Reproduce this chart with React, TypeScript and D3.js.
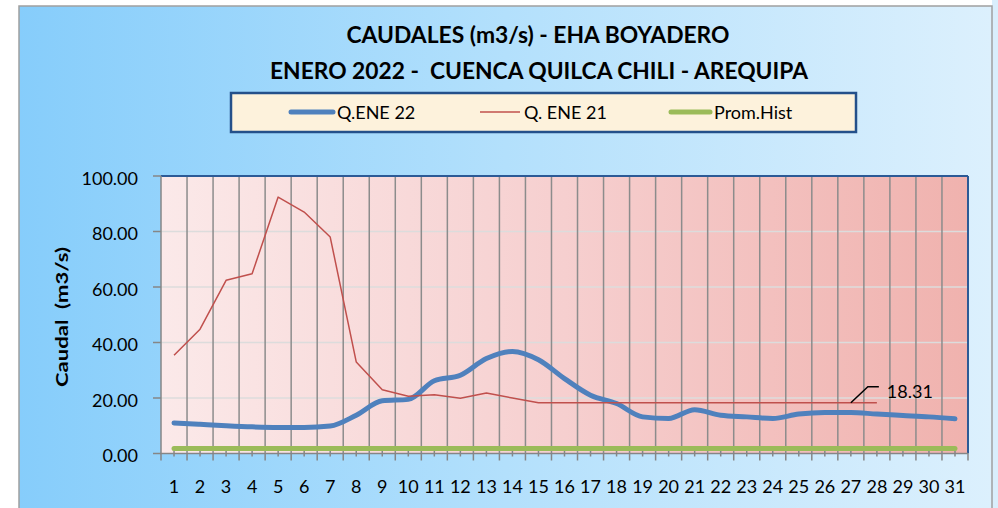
import React from "react";
import * as d3 from "d3";

const days = ["1","2","3","4","5","6","7","8","9","10","11","12","13","14","15","16","17","18","19","20","21","22","23","24","25","26","27","28","29","30","31"];
const qEne22 = [11.0, 10.5, 10.0, 9.6, 9.4, 9.4, 9.9, 13.8, 19.0, 19.5, 26.2, 28.2, 34.2, 36.8, 33.8, 27.0, 21.0, 18.0, 13.2, 12.6, 15.8, 13.8, 13.2, 12.6, 14.2, 14.8, 14.8, 14.2, 13.7, 13.2, 12.5];
const qEne21: (number | null)[] = [35.4, 44.8, 62.4, 64.8, 92.4, 87.0, 78.0, 33.0, 23.0, 20.6, 21.2, 19.9, 21.8, 20.0, 18.31, 18.31, 18.31, 18.31, 18.31, 18.31, 18.31, 18.31, 18.31, 18.31, 18.31, 18.31, 18.31, 18.31, null, null, null];
const promHist = [1.8, 1.8, 1.8, 1.8, 1.8, 1.8, 1.8, 1.8, 1.8, 1.8, 1.8, 1.8, 1.8, 1.8, 1.8, 1.8, 1.8, 1.8, 1.8, 1.8, 1.8, 1.8, 1.8, 1.8, 1.8, 1.8, 1.8, 1.8, 1.8, 1.8, 1.8];
const yTicks = [0, 20, 40, 60, 80, 100];
const titleLines = ["CAUDALES (m3/s) - EHA BOYADERO", "ENERO 2022 -  CUENCA QUILCA CHILI - AREQUIPA"];
const seriesNames = ["Q.ENE 22", "Q. ENE 21", "Prom.Hist"];
const labelDay = "27";
const labelValue = 18.31;

const W = 998, H = 508;
const FONT = "Lato, 'Open Sans', sans-serif";

export default function App() {
  const x = d3.scaleBand<string>().domain(days).range([161, 968]).padding(0);
  const y = d3.scaleLinear().domain([0, 100]).range([453.5, 176]);
  const cx = (d: string) => (x(d) as number) + x.bandwidth() / 2;

  const lineBlue = d3.line<number>().x((_, i) => cx(days[i])).y((v) => y(v)).curve(d3.curveMonotoneX);
  const lineRed = d3.line<number | null>().defined((v) => v !== null).x((_, i) => cx(days[i])).y((v) => y(v as number));
  const lineGreen = d3.line<number>().x((_, i) => cx(days[i])).y((v) => y(v));

  const [x0, x1] = x.range();
  const [yb, yt] = y.range();
  const fmt = d3.format(".2f");

  const lx = cx(labelDay), ly = y(labelValue);

  return (
    <svg width={W} height={H} style={{ position: "absolute", left: 0, top: 0, display: "block" }} fontFamily={FONT}>
      <defs>
        <linearGradient id="bg" x1="0" x2="1" y1="0" y2="0">
          <stop offset="0" stopColor="#86cdfb" />
          <stop offset="0.5" stopColor="#b3e0fc" />
          <stop offset="1" stopColor="#dcf0fd" />
        </linearGradient>
        <linearGradient id="pa" x1="0" x2="1" y1="0" y2="0">
          <stop offset="0" stopColor="#fbe9e9" />
          <stop offset="0.5" stopColor="#f6cfcf" />
          <stop offset="1" stopColor="#f0b2ae" />
        </linearGradient>
      </defs>
      <rect x={0} y={0} width={W} height={H} fill="#ffffff" />
      <rect x={992} y={0} width={6} height={H} fill="#d9eefc" />
      <rect x={19} y={6} width={973} height={H} fill="url(#bg)" stroke="#a0a0a0" strokeWidth={1.5} />

      {/* titles */}
      <text x={538} y={43} textAnchor="middle" fontWeight="bold" fontSize={23} textLength={383} lengthAdjust="spacingAndGlyphs" fill="#000">{titleLines[0]}</text>
      <text x={539} y={79} textAnchor="middle" fontWeight="bold" fontSize={23} textLength={538} lengthAdjust="spacingAndGlyphs" fill="#000" style={{ whiteSpace: "pre" }}>{titleLines[1]}</text>

      {/* legend */}
      <rect x={231} y={93} width={625} height={39} fill="#fdf2dc" stroke="#24508a" strokeWidth={2.5} />
      <line x1={291} x2={333} y1={112} y2={112} stroke="#4f81bd" strokeWidth={5} strokeLinecap="round" />
      <text x={337} y={119} fontSize={18} fill="#000">{seriesNames[0]}</text>
      <line x1={480} x2={520} y1={112} y2={112} stroke="#c0504d" strokeWidth={1.5} />
      <text x={524} y={119} fontSize={18} fill="#000">{seriesNames[1]}</text>
      <line x1={671} x2={710} y1={112} y2={112} stroke="#9bbb59" strokeWidth={5} strokeLinecap="round" />
      <text x={714} y={119} fontSize={18} fill="#000">{seriesNames[2]}</text>

      {/* plot area */}
      <rect x={x0} y={yt} width={x1 - x0} height={yb - yt} fill="url(#pa)" />
      {yTicks.filter((t) => t > 0 && t < 100).map((t) => (
        <line key={"hg" + t} x1={x0} x2={x1} y1={y(t)} y2={y(t)} stroke="#dcdcdc" strokeWidth={1.5} />
      ))}
      {days.slice(1).map((d) => (
        <line key={"vg" + d} x1={x(d) as number} x2={x(d) as number} y1={yt} y2={yb} stroke="#8c8c8c" strokeWidth={1.5} />
      ))}
      <line x1={x0} x2={x1} y1={yt} y2={yt} stroke="#2c5a96" strokeWidth={2} />
      <line x1={x1} x2={x1} y1={yt} y2={yb} stroke="#2c5a96" strokeWidth={2} />

      {/* y axis */}
      <line x1={x0} x2={x0} y1={yt} y2={yb} stroke="#868686" strokeWidth={1.5} />
      {yTicks.map((t) => (
        <g key={"yt" + t}>
          <line x1={x0 - 8} x2={x0} y1={y(t)} y2={y(t)} stroke="#868686" strokeWidth={1.5} />
          <text x={138} y={y(t) + 8.5} textAnchor="end" fontSize={18} fill="#000">{fmt(t)}</text>
        </g>
      ))}
      <text transform={`translate(68,317) rotate(-90)`} textAnchor="middle" fontWeight="bold" fontSize={17} textLength={140} lengthAdjust="spacingAndGlyphs" fill="#000" style={{ whiteSpace: "pre" }}>Caudal  (m3/s)</text>

      {/* x axis */}
      <line x1={x0 - 1} x2={x1} y1={yb} y2={yb} stroke="#868686" strokeWidth={1.5} />
      {days.map((d) => (
        <g key={"xt" + d}>
          <line x1={x(d) as number} x2={x(d) as number} y1={yb} y2={yb + 7} stroke="#868686" strokeWidth={1.5} />
          <line x1={cx(d)} x2={cx(d)} y1={yb - 3} y2={yb + 3} stroke="#868686" strokeWidth={1.5} />
          <text x={cx(d)} y={493} textAnchor="middle" fontSize={18} fill="#000">{d}</text>
        </g>
      ))}
      <line x1={x1} x2={x1} y1={yb} y2={yb + 7} stroke="#868686" strokeWidth={1.5} />

      {/* series */}
      <path d={lineBlue(qEne22) as string} fill="none" stroke="#4f81bd" strokeWidth={5} strokeLinecap="round" strokeLinejoin="round" />
      <path d={lineRed(qEne21) as string} fill="none" stroke="#c0504d" strokeWidth={1.5} strokeLinejoin="round" />
      <path d={lineGreen(promHist) as string} fill="none" stroke="#9bbb59" strokeWidth={5} strokeLinecap="round" />

      {/* data label */}
      <polyline points={`${lx},${ly} ${lx + 17},${ly - 16} ${lx + 28},${ly - 16}`} fill="none" stroke="#000" strokeWidth={1.5} />
      <text x={lx + 36} y={ly - 5} fontSize={18} fill="#000">{fmt(labelValue)}</text>
    </svg>
  );
}
